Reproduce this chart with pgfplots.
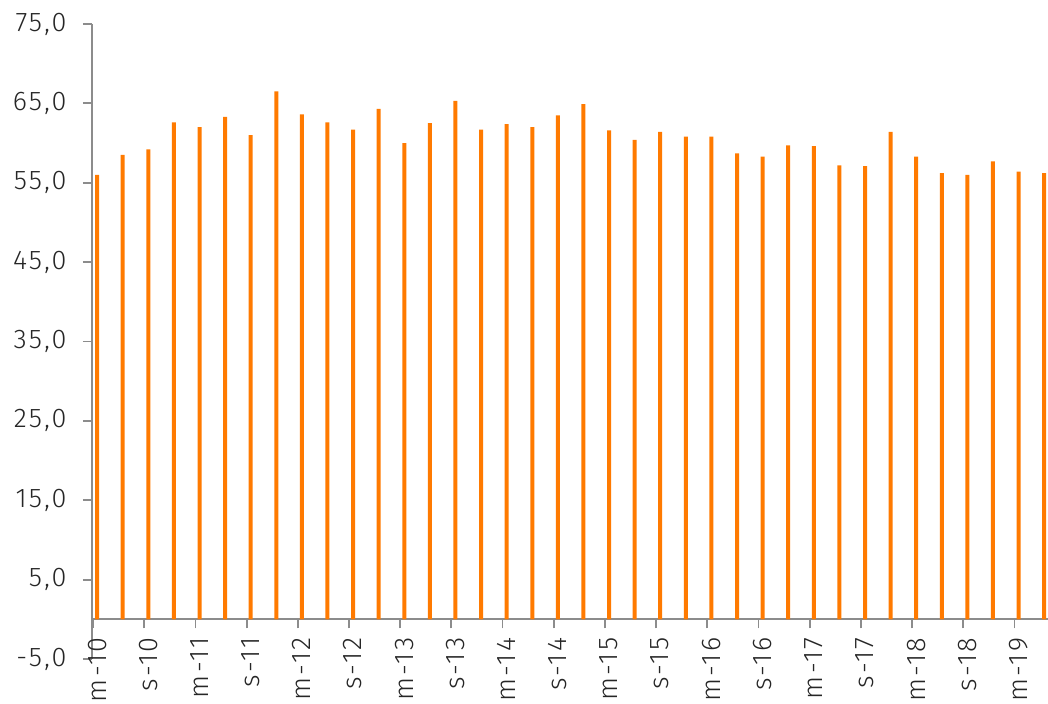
\documentclass[border=0pt]{standalone}
\usepackage{fontspec}
\setmainfont{Fira Sans}[UprightFont={* Light}, LetterSpace=8]
\usepackage{pgfplots}
\pgfplotsset{compat=1.18}
\definecolor{barorange}{HTML}{FF7A00}
\definecolor{axgray}{HTML}{8C8C8C}
\definecolor{txt}{HTML}{262626}
\begin{document}
\begin{tikzpicture}
\useasboundingbox (-46pt,-22.5pt) rectangle (478pt,329.5pt);
\begin{axis}[
  at={(0pt,0pt)}, anchor=south west,
  scale only axis,
  width=478pt, height=317.5pt,
  xmin=-0.2, xmax=37.15,
  ymin=-5, ymax=75,
  axis y line*=left,
  axis x line*=middle,
  axis line style={axgray, line width=0.9pt},
  tick style={axgray, line width=0.9pt},
  tick align=outside,
  major tick length=4.5pt,
  ytick={-5,5,15,25,35,45,55,65,75},
  yticklabel style={/pgf/number format/fixed, /pgf/number format/fixed zerofill, /pgf/number format/precision=1, /pgf/number format/use comma, /pgf/number format/assume math mode=true},
  yticklabel style={font=\fontsize{13.5}{14}\selectfont, text=txt, anchor=east, inner sep=0pt, xshift=-8pt},
  xtick={-0.16,1.84,3.84,5.84,7.84,9.84,11.84,13.84,15.84,17.84,19.84,21.84,23.84,25.84,27.84,29.84,31.84,33.84,35.84},
  xticklabels={m-10,s-10,m-11,s-11,m-12,s-12,m-13,s-13,m-14,s-14,m-15,s-15,m-16,s-16,m-17,s-17,m-18,s-18,m-19},
  xticklabel style={font=\fontsize{13.5}{14}\selectfont, text=txt, rotate=90, anchor=east, inner sep=0pt, xshift=-4.5pt, yshift=-2pt},
  clip=false,
]
\addplot[ybar, bar width=2pt, bar shift=0pt, fill=barorange, draw=none] coordinates {
(0,56.0) (1,58.5) (2,59.2) (3,62.6) (4,62.0) (5,63.3) (6,61.0) (7,66.5)
(8,63.6) (9,62.6) (10,61.7) (11,64.3) (12,60.0) (13,62.5) (14,65.3) (15,61.7)
(16,62.4) (17,62.0) (18,63.5) (19,64.9) (20,61.6) (21,60.4) (22,61.4) (23,60.8)
(24,60.8) (25,58.7) (26,58.3) (27,59.7) (28,59.6) (29,57.2) (30,57.1) (31,61.4)
(32,58.3) (33,56.2) (34,56.0) (35,57.7) (36,56.4) (37,56.2)
};
\end{axis}
\end{tikzpicture}
\end{document}
